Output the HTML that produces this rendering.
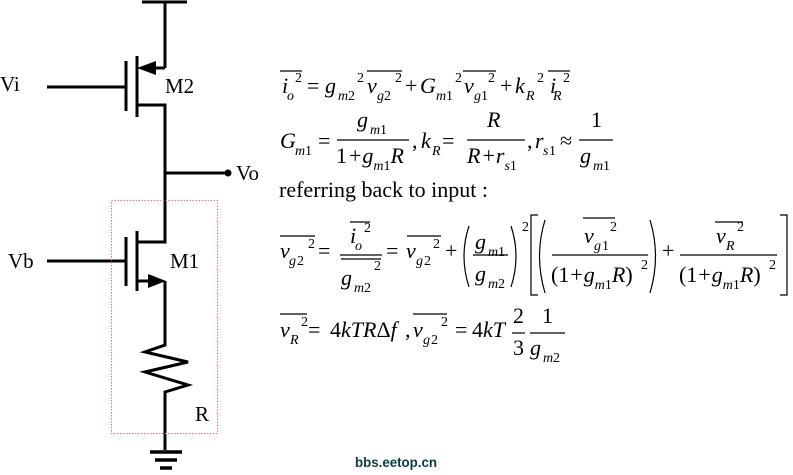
<!DOCTYPE html>
<html><head><meta charset="utf-8"><style>
html,body{margin:0;padding:0;background:#fff;}
svg{display:block;}
text{font-family:"Liberation Serif",serif;fill:#000;}
.i{font-style:italic;}
.s{font-size:14px;}
</style></head><body>
<svg width="793" height="475" viewBox="0 0 793 475" xmlns="http://www.w3.org/2000/svg">
<g stroke="#000" stroke-width="3" fill="none">
<line x1="142" y1="2" x2="187" y2="2"/>
<line x1="165" y1="2" x2="165" y2="68"/>
<line x1="150" y1="68" x2="165" y2="68"/>
<line x1="137" y1="56" x2="137" y2="117"/>
<line x1="126" y1="61" x2="126" y2="111"/>
<line x1="47" y1="87" x2="126" y2="87"/>
<polyline points="137,105 165,105 165,242 137,242"/>
<line x1="165" y1="173" x2="227" y2="173"/>
<line x1="137" y1="231" x2="137" y2="291"/>
<line x1="126" y1="237" x2="126" y2="286"/>
<line x1="47" y1="261" x2="126" y2="261"/>
<line x1="137" y1="281" x2="150" y2="281"/>
<polyline points="165,281 165,345 145,352 188,362 145,372 188,385 165,392 165,450"/>
<line x1="150" y1="452" x2="182" y2="452" stroke-width="3.5"/>
<line x1="155" y1="460" x2="177" y2="460" stroke-width="3.5"/>
<line x1="160" y1="468" x2="172" y2="468" stroke-width="3.5"/>
</g>
<polygon points="137,68 156,61 156,75" fill="#000"/>
<polygon points="166,281 148,274 148,288" fill="#000"/>
<circle cx="228" cy="173" r="3.5" fill="#000"/>
<rect x="111.5" y="200.5" width="106" height="233" fill="none" stroke="#f07070" stroke-width="1" stroke-dasharray="1.5,1.5"/>
<g font-size="21">
<text x="0" y="91">Vi</text>
<text x="165" y="93">M2</text>
<text x="236" y="180">Vo</text>
<text x="8" y="268">Vb</text>
<text x="170" y="268">M1</text>
<text x="195" y="421">R</text>
</g>
<text x="355" y="467" font-weight="bold" font-size="14" style="fill:#0d3c3c;font-family:'Liberation Sans',sans-serif" textLength="82" lengthAdjust="spacingAndGlyphs">bbs.eetop.cn</text>

<g stroke="#000" stroke-width="1.2">
<line x1="280" y1="71" x2="302" y2="71"/>
<line x1="367" y1="71" x2="402" y2="71"/>
<line x1="463" y1="71" x2="496" y2="71"/>
<line x1="548" y1="71" x2="570" y2="71"/>
<line x1="337" y1="140" x2="409" y2="140"/>
<line x1="467" y1="140" x2="525" y2="140"/>
<line x1="579" y1="140" x2="613" y2="140"/>
<line x1="280" y1="236" x2="315" y2="236"/>
<line x1="350" y1="222" x2="370" y2="222"/>
<line x1="340" y1="255" x2="382" y2="255"/>
<line x1="341" y1="259" x2="381" y2="259"/>
<line x1="407" y1="236" x2="441" y2="236"/>
<line x1="473" y1="255" x2="508" y2="255"/>
<line x1="583" y1="218" x2="615" y2="218"/>
<line x1="552" y1="255" x2="648" y2="255"/>
<line x1="715" y1="222" x2="743" y2="222"/>
<line x1="680" y1="255" x2="777" y2="255"/>
<line x1="280" y1="314" x2="307" y2="314"/>
<line x1="413" y1="314" x2="447" y2="314"/>
<line x1="512" y1="333" x2="525" y2="333"/>
<line x1="530" y1="333" x2="565" y2="333"/>
</g>
<g fill="none" stroke="#000" stroke-width="1.2">
<path d="M469,226 Q459,256 469,287"/>
<path d="M511,226 Q521,256 511,287"/>
<path d="M545,220 Q534,256 545,293"/>
<path d="M650,220 Q661,256 650,293"/>
<polyline points="538,215 531,215 531,295 538,295"/>
<polyline points="780,215 787,215 787,295 780,295"/>
</g>

<g font-size="22">
<text x="282" y="93" class="i">i</text><text x="287" y="100" class="i s">o</text><text x="295" y="82" class="s">2</text>
<text x="307" y="93">=</text>
<text x="325" y="93" class="i">g</text><text x="338" y="100" class="i s">m</text><text x="348" y="100" class="s">2</text><text x="357" y="82" class="s">2</text>
<text x="367" y="93" class="i">v</text><text x="377" y="100" class="i s">g</text><text x="384" y="100" class="s">2</text><text x="395" y="82" class="s">2</text>
<text x="405" y="93">+</text>
<text x="420" y="93" class="i">G</text><text x="436" y="100" class="i s">m</text><text x="446" y="100" class="s">1</text><text x="455" y="82" class="s">2</text>
<text x="464" y="93" class="i">v</text><text x="474" y="100" class="i s">g</text><text x="481" y="100" class="s">1</text><text x="488" y="82" class="s">2</text>
<text x="500" y="93">+</text>
<text x="515" y="93" class="i">k</text><text x="526" y="100" class="i s">R</text><text x="537" y="82" class="s">2</text>
<text x="550" y="93" class="i">i</text><text x="553" y="100" class="i s">R</text><text x="563" y="82" class="s">2</text>
<text x="280" y="148" class="i">G</text><text x="295" y="155" class="i s">m</text><text x="305" y="155" class="s">1</text>
<text x="318" y="148">=</text>
<text x="357" y="127" class="i">g</text><text x="370" y="134" class="i s">m</text><text x="380" y="134" class="s">1</text>
<text x="336" y="163">1<tspan dx="2">+</tspan><tspan dx="1" class="i">g</tspan><tspan dy="7" class="i s">m</tspan><tspan class="s">1</tspan><tspan dy="-7" class="i">R</tspan></text>
<text x="412" y="148">,</text>
<text x="421" y="148" class="i">k</text><text x="432" y="155" class="i s">R</text>
<text x="442" y="148">=</text>
<text x="487" y="127" class="i">R</text>
<text x="467" y="163"><tspan class="i">R</tspan><tspan dx="2">+</tspan><tspan dx="1" class="i">r</tspan><tspan dy="7" class="i s">s</tspan><tspan class="s">1</tspan></text>
<text x="527" y="148">,</text>
<text x="535" y="148" class="i">r</text><text x="543" y="155" class="i s">s</text><text x="549" y="155" class="s">1</text>
<text x="560" y="148">≈</text>
<text x="591" y="127">1</text>
<text x="580" y="163" class="i">g</text><text x="593" y="170" class="i s">m</text><text x="603" y="170" class="s">1</text>
<text x="279" y="197" textLength="209" lengthAdjust="spacingAndGlyphs">referring  back to input :</text>
<text x="280" y="258" class="i">v</text><text x="289" y="265" class="i s">g</text><text x="297" y="265" class="s">2</text><text x="308" y="248" class="s">2</text>
<text x="318" y="258">=</text>
<text x="350" y="243" class="i">i</text><text x="355" y="250" class="i s">o</text><text x="364" y="232" class="s">2</text>
<text x="341" y="285" class="i">g</text><text x="354" y="292" class="i s">m</text><text x="364" y="292" class="s">2</text><text x="374" y="270" class="s">2</text>
<text x="386" y="258">=</text>
<text x="406" y="258" class="i">v</text><text x="416" y="265" class="i s">g</text><text x="424" y="265" class="s">2</text><text x="433" y="248" class="s">2</text>
<text x="445" y="258">+</text>
<text x="475" y="249" class="i">g</text><text x="488" y="256" class="i s">m</text><text x="498" y="256" class="s">1</text>
<text x="475" y="281" class="i">g</text><text x="488" y="288" class="i s">m</text><text x="498" y="288" class="s">2</text>
<text x="522" y="231" class="s">2</text>
<text x="584" y="243" class="i">v</text><text x="594" y="250" class="i s">g</text><text x="602" y="250" class="s">1</text><text x="610" y="231" class="s">2</text>
<text x="551" y="282">(1<tspan dx="1">+</tspan><tspan dx="1" class="i">g</tspan><tspan dy="7" class="i s">m</tspan><tspan class="s">1</tspan><tspan dy="-7" class="i">R</tspan>)</text><text x="641" y="269" class="s">2</text>
<text x="662" y="258">+</text>
<text x="716" y="243" class="i">v</text><text x="726" y="250" class="i s">R</text><text x="737" y="231" class="s">2</text>
<text x="679" y="282">(1<tspan dx="1">+</tspan><tspan dx="1" class="i">g</tspan><tspan dy="7" class="i s">m</tspan><tspan class="s">1</tspan><tspan dy="-7" class="i">R</tspan>)</text><text x="769" y="269" class="s">2</text>
<text x="280" y="337" class="i">v</text><text x="290" y="344" class="i s">R</text><text x="301" y="326" class="s">2</text>
<text x="308" y="337">=</text>
<text x="330" y="337">4<tspan class="i">kTR</tspan>Δ<tspan class="i">f</tspan></text>
<text x="405" y="337">,</text>
<text x="413" y="337" class="i">v</text><text x="423" y="344" class="i s">g</text><text x="431" y="344" class="s">2</text><text x="441" y="326" class="s">2</text>
<text x="455" y="337">=</text>
<text x="472" y="337">4<tspan class="i">kT</tspan></text>
<text x="513" y="323">2</text>
<text x="513" y="355">3</text>
<text x="542" y="323">1</text>
<text x="530" y="355" class="i">g</text><text x="543" y="362" class="i s">m</text><text x="553" y="362" class="s">2</text>
</g>
</svg>
</body></html>
